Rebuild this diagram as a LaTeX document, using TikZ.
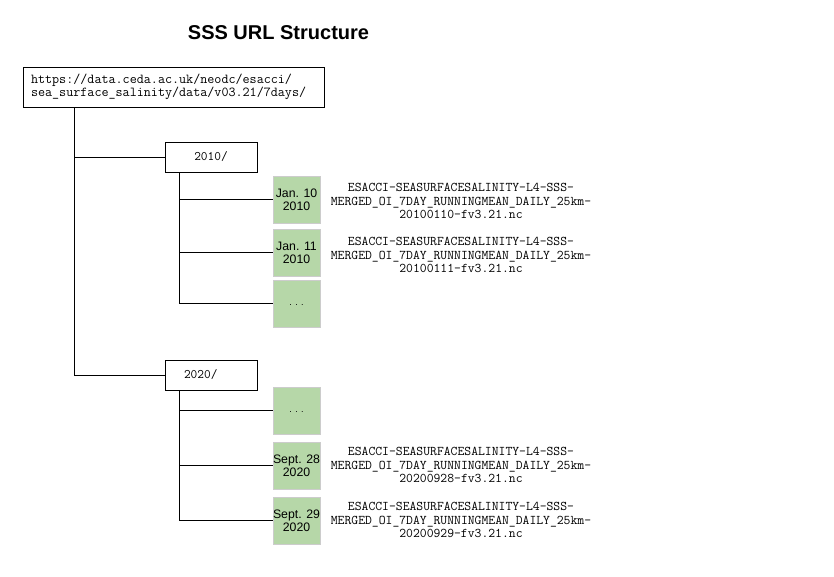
\documentclass[tikz,border=0pt]{standalone}
\usepackage{fontspec}
\setmainfont{Liberation Sans}
\newfontfamily\monof{Latin Modern Mono}
\definecolor{boxgreen}{HTML}{B6D7A8}
\definecolor{boxgray}{HTML}{CCCCCC}
\begin{document}
\begin{tikzpicture}[x=1pt,y=-1pt,
  urlbox/.style={draw=black, line width=0.9pt, inner xsep=8pt, inner ysep=0pt, text width=285pt, align=left, minimum height=40pt, font=\monof\fontsize{13.7}{13}\selectfont},
  yearbox/.style={draw=black, line width=0.9pt, minimum width=92pt, minimum height=30pt, inner sep=0pt, font=\monof\fontsize{13}{12}\selectfont},
  yearboxl/.style={yearbox, text width=54pt, inner xsep=19pt, align=left},
  daybox/.style={draw=boxgray, fill=boxgreen, line width=0.6pt, minimum width=47pt, minimum height=47pt, inner sep=0pt, align=center, font=\fontsize{12.3}{13}\selectfont},
  fname/.style={align=center, inner sep=0pt, font=\monof\fontsize{13.3}{13.5}\selectfont},
  link/.style={draw=black, line width=0.9pt}]
\useasboundingbox (0,0) rectangle (834,576);
\node[font=\bfseries\fontsize{20}{24}\selectfont, inner sep=0pt] (title) at (278.5,33) {SSS URL Structure};
\node[urlbox] (url) at (173.5,87) {https://data.ceda.ac.uk/neodc/esacci/\\sea\_surface\_salinity/data/v03.21/7days/};
\node[yearbox] (y2010) at (211,157) {2010/};
\node[yearboxl] (y2020) at (211,375) {2020/};
\node[daybox] (j10) at (296.5,199.5) {Jan. 10\\2010};
\node[daybox] (j11) at (296.5,252.5) {Jan. 11\\2010};
\node[daybox] (d1) at (296.5,303.5) {\raisebox{-3pt}{\fontsize{9}{10}\selectfont . . .}};
\node[daybox] (d2) at (296.5,410.5) {\raisebox{-3pt}{\fontsize{9}{10}\selectfont . . .}};
\node[daybox] (s28) at (296.5,465.5) {Sept. 28\\2020};
\node[daybox] (s29) at (296.5,520.5) {Sept. 29\\2020};
\node[fname] (f10) at (461,201) {ESACCI-SEASURFACESALINITY-L4-SSS-\\MERGED\_OI\_7DAY\_RUNNINGMEAN\_DAILY\_25km-\\20100110-fv3.21.nc};
\node[fname] (f11) at (461,255) {ESACCI-SEASURFACESALINITY-L4-SSS-\\MERGED\_OI\_7DAY\_RUNNINGMEAN\_DAILY\_25km-\\20100111-fv3.21.nc};
\node[fname] (f28) at (461,465) {ESACCI-SEASURFACESALINITY-L4-SSS-\\MERGED\_OI\_7DAY\_RUNNINGMEAN\_DAILY\_25km-\\20200928-fv3.21.nc};
\node[fname] (f29) at (461,520) {ESACCI-SEASURFACESALINITY-L4-SSS-\\MERGED\_OI\_7DAY\_RUNNINGMEAN\_DAILY\_25km-\\20200929-fv3.21.nc};
\coordinate (t0) at ([xshift=52pt]url.south west);
\coordinate (t1) at ([xshift=15pt]y2010.south west);
\coordinate (t2) at ([xshift=15pt]y2020.south west);
\draw[link] (t0) |- (y2010.west);
\draw[link] (t0) |- (y2020.west);
\draw[link] (t1) |- (j10.west);
\draw[link] (t1) |- (j11.west);
\draw[link] (t1) |- (d1.west);
\draw[link] (t2) |- (d2.west);
\draw[link] (t2) |- (s28.west);
\draw[link] (t2) |- (s29.west);
\end{tikzpicture}
\end{document}
